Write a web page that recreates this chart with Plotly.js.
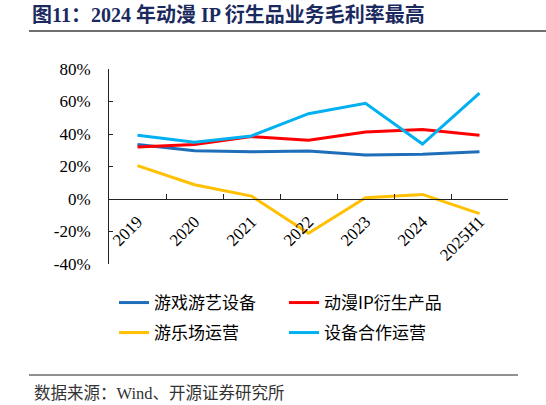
<!DOCTYPE html>
<html>
<head>
<meta charset="utf-8">
<script src="https://cdn.plot.ly/plotly-3.0.1.min.js"></script>
<style>html,body{margin:0;padding:0;background:#fff;}#chart{width:546px;height:405px;}</style>
</head>
<body>
<div id="chart"></div>
<script>
const categories = ['2019', '2020', '2021', '2022', '2023', '2024', '2025H1'];
const seriesNames = ['游戏游艺设备', '动漫IP衍生产品', '游乐场运营', '设备合作运营'];
const gameDevices = [33.6, 29.7, 29.1, 29.5, 27.1, 27.5, 29.1];
const animeIP = [32.0, 33.6, 38.4, 36.1, 41.2, 42.7, 39.2];
const parkOps = [20.5, 8.8, 1.8, -21.1, 0.8, 2.8, -9.0];
const coopOps = [39.2, 34.9, 38.8, 52.5, 58.9, 33.8, 65.2];
const yTickVals = [-40, -20, 0, 20, 40, 60, 80];
const yTickText = ['-40%', '-20%', '0%', '20%', '40%', '60%', '80%'];
const titleText = '图11：2024 年动漫 IP 衍生品业务毛利率最高';
const sourceText = '数据来源：Wind、开源证券研究所';

const colors = ['#1F6EBA', '#FF0000', '#FFC000', '#00B0F0'];
const seriesData = [gameDevices, animeIP, parkOps, coopOps];
const legendOf = ['legend', 'legend', 'legend2', 'legend2'];

const traces = seriesData.map((vals, i) => ({
  type: 'scatter',
  mode: 'lines',
  name: seriesNames[i],
  legend: legendOf[i],
  x: categories,
  y: vals,
  line: {color: colors[i], width: 3},
  hoverinfo: 'skip'
}));

const serif = 'Liberation Serif, Times New Roman, serif';
const cjk = 'Liberation Serif, Noto Sans CJK SC, serif';
const legendFont = {family: 'Noto Sans CJK SC, sans-serif', size: 17, color: '#000'};

function legendAt(y) {
  return {
    orientation: 'h',
    x: 5 / 399, xanchor: 'left',
    y: y, yanchor: 'middle',
    entrywidth: 125,
    font: legendFont,
    bgcolor: 'rgba(0,0,0,0)'
  };
}

const layout = {
  width: 546,
  height: 405,
  margin: {l: 109, r: 38, t: 69, b: 141},
  paper_bgcolor: '#ffffff',
  plot_bgcolor: '#ffffff',
  showlegend: true,
  title: {
    text: '<b>' + titleText + '</b>',
    x: 32 / 546, xanchor: 'left', xref: 'container',
    y: 1 - 15 / 405, yanchor: 'middle', yref: 'container',
    font: {family: cjk, size: 20, color: '#1B2A5E'}
  },
  xaxis: {
    type: 'category',
    anchor: 'free',
    position: 1 / 3,
    showline: true, linecolor: '#222', linewidth: 1,
    showgrid: false, zeroline: false,
    ticks: 'inside', ticklen: 5, tickcolor: '#222', tickson: 'boundaries',
    tickangle: -45,
    ticklabelstandoff: 5,
    tickfont: {family: serif, size: 17, color: '#000'},
    range: [-0.5, 6.5]
  },
  yaxis: {
    range: [-40, 80],
    tickvals: yTickVals,
    ticktext: yTickText,
    showline: true, linecolor: '#222', linewidth: 1,
    showgrid: false, zeroline: false,
    ticks: 'inside', ticklen: 4, tickcolor: '#222',
    ticklabelstandoff: 14,
    tickfont: {family: serif, size: 17, color: '#000'}
  },
  legend: legendAt((264 - 303) / 195),
  legend2: legendAt((264 - 333) / 195),
  shapes: [
    {type: 'line', xref: 'paper', yref: 'paper', x0: -0.2005, x1: 1.0952, y0: (264 - 31) / 195, y1: (264 - 31) / 195,
     line: {color: '#6f6f6f', width: 2}},
    {type: 'line', xref: 'paper', yref: 'paper', x0: -0.2005, x1: 1.025, y0: (264 - 375) / 195, y1: (264 - 375) / 195,
     line: {color: '#222', width: 1}}
  ],
  annotations: [
    {text: sourceText, xref: 'paper', yref: 'paper', x: (32 - 109) / 399, y: (264 - 393) / 195,
     xanchor: 'left', yanchor: 'middle', showarrow: false,
     font: {family: cjk, size: 16.5, color: '#333'}}
  ]
};

Plotly.newPlot('chart', traces, layout, {displayModeBar: false, staticPlot: true});
</script>
</body>
</html>
